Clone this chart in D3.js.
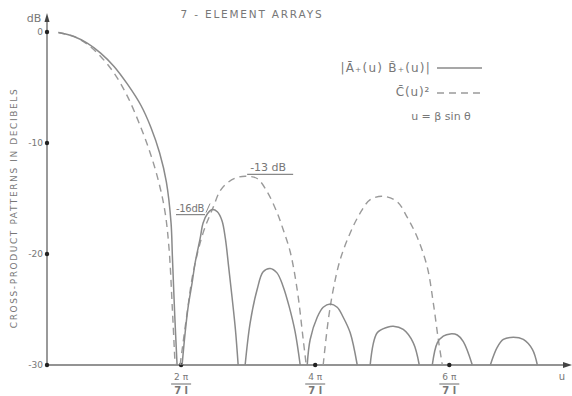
<!DOCTYPE html>
<html>
<head>
<meta charset="utf-8">
<script src="https://cdn.jsdelivr.net/npm/d3@7/dist/d3.min.js"></script>
<style>
  html, body { margin: 0; padding: 0; background: #fff; }
  svg { display: block; }
  text { font-family: "DejaVu Sans", "Liberation Sans", sans-serif; fill: #777; }
</style>
</head>
<body>
<svg id="chart" width="572" height="396"></svg>
<script>
// u is measured in units of pi/(7l); patterns in dB, clipped at -30 dB.
const xTicks = [2, 4, 6];
const yTicks = [0, -10, -20, -30];
const yTickLabels = ["0", "-10", "-20", "-30"];

// |A+(u) B+(u)|  (solid) — main lobe and sidelobes
const productMain = [[0.17,-0.05],[0.4,-0.4],[0.6,-1.0],[0.8,-1.9],[1.0,-3.1],[1.2,-4.7],[1.4,-6.6],[1.55,-8.6],[1.68,-10.9],[1.78,-13.5],[1.85,-17.2],[1.87,-20.2],[1.905,-25.5],[1.94,-30]];
const productSide1 = [[2.015,-30],[2.06,-27.1],[2.104,-24.8],[2.164,-22.6],[2.209,-20.8],[2.284,-18.6],[2.328,-17.2],[2.39,-16.4],[2.463,-16.0],[2.54,-16.2],[2.61,-17.0],[2.66,-18.6],[2.71,-21.2],[2.76,-23.9],[2.81,-26.8],[2.851,-30]];
const productSide2 = [[2.955,-30],[3.03,-26.2],[3.134,-23.2],[3.224,-21.6],[3.328,-21.3],[3.43,-21.7],[3.52,-22.9],[3.61,-24.7],[3.70,-27.0],[3.776,-30]];
const productSide3 = [[3.881,-30],[3.925,-27.7],[4.03,-25.7],[4.119,-24.8],[4.224,-24.5],[4.328,-24.8],[4.418,-25.7],[4.522,-27.1],[4.627,-30]];
const productSide4 = [[4.82,-30],[4.925,-27.1],[5.075,-26.6],[5.164,-26.5],[5.313,-26.8],[5.463,-28.0],[5.552,-30]];
const productSide5 = [[5.746,-30],[5.821,-28.0],[5.91,-27.4],[6.015,-27.2],[6.119,-27.3],[6.209,-27.9],[6.343,-30]];
const productSide6 = [[6.612,-30],[6.716,-28.4],[6.806,-27.7],[6.955,-27.5],[7.104,-27.7],[7.239,-28.6],[7.313,-30]];

// C(u)^2  (dashed)
const squareMain = [[0.17,-0.05],[0.4,-0.4],[0.6,-1.1],[0.8,-2.2],[1.0,-3.7],[1.2,-5.8],[1.4,-8.6],[1.55,-11.1],[1.67,-13.6],[1.76,-16.2],[1.82,-19.5],[1.87,-25.0],[1.91,-30]];
const squareSide1 = [[1.985,-30],[2.09,-25.3],[2.179,-21.7],[2.328,-18.1],[2.478,-15.8],[2.582,-14.3],[2.687,-13.6],[2.836,-13.1],[2.985,-13.0],[3.134,-13.2],[3.284,-14.4],[3.433,-16.3],[3.522,-17.8],[3.627,-19.8],[3.731,-23.2],[3.821,-27.7],[3.866,-30]];
const squareSide2 = [[4.119,-30],[4.194,-26.0],[4.269,-23.2],[4.373,-20.5],[4.522,-18.1],[4.672,-16.3],[4.821,-15.1],[5.015,-14.8],[5.224,-15.3],[5.373,-16.7],[5.522,-18.5],[5.672,-21.2],[5.761,-24.4],[5.836,-27.7],[5.896,-30]];

const productLobes = [productMain, productSide1, productSide2, productSide3, productSide4, productSide5, productSide6];
const squareLobes = [squareMain, squareSide1, squareSide2];

const svg = d3.select("#chart");
const x = d3.scaleLinear().domain([0, 7.8]).range([47, 570]);
const y = d3.scaleLinear().domain([-30, 0]).range([365, 32]);

const line = d3.line().x(d => x(d[0])).y(d => y(d[1])).curve(d3.curveCatmullRom.alpha(0.5));

// axes
const axisColor = "#6f6f6f";
svg.append("line").attr("x1", x(0)).attr("x2", 566).attr("y1", y(-30)).attr("y2", y(-30))
  .attr("stroke", axisColor).attr("stroke-width", 1.6);
svg.append("path").attr("d", `M${572},${y(-30)} L${563},${y(-30) - 3} L${563},${y(-30) + 3} Z`).attr("fill", "#444");
svg.append("line").attr("x1", x(0)).attr("x2", x(0)).attr("y1", y(-30)).attr("y2", 20)
  .attr("stroke", axisColor).attr("stroke-width", 1.4);
svg.append("path").attr("d", `M${x(0)},13 L${x(0) - 2.5},22 L${x(0) + 2.5},22 Z`).attr("fill", "#444");

// y ticks with the axis generator, then dots on the axis
const yAxis = svg.append("g").attr("transform", `translate(${x(0) - 3},0)`)
  .call(d3.axisLeft(y).tickValues(yTicks).tickSize(0).tickPadding(1).tickFormat((d, i) => yTickLabels[i]));
yAxis.select(".domain").remove();
yAxis.selectAll("text").style("font-size", "9px").attr("fill", "#888");
svg.selectAll(".ydot").data(yTicks).join("circle").attr("class", "ydot")
  .attr("cx", x(0)).attr("cy", d => y(d)).attr("r", 2.2).attr("fill", "#222");

// x ticks: dots and fraction labels
svg.selectAll(".xdot").data(xTicks).join("circle").attr("class", "xdot")
  .attr("cx", d => x(d)).attr("cy", y(-30)).attr("r", 2.2).attr("fill", "#222");
const xLab = svg.selectAll(".xlab").data(xTicks).join("g").attr("class", "xlab")
  .attr("transform", d => `translate(${x(d)},0)`);
xLab.append("text").attr("y", 380).attr("text-anchor", "middle").style("font-size", "9px")
  .text(d => d + " π");
xLab.append("line").attr("x1", -10).attr("x2", 10).attr("y1", 384).attr("y2", 384)
  .attr("stroke", "#777").attr("stroke-width", 1.1);
xLab.append("text").attr("y", 394).attr("text-anchor", "middle").style("font-size", "10px")
  .style("font-weight", "bold").text("7 l");

// axis names
svg.append("text").attr("x", 34).attr("y", 22).attr("text-anchor", "middle")
  .style("font-size", "11px").attr("fill", "#777").text("dB");
svg.append("text").attr("x", 562).attr("y", 380).attr("text-anchor", "middle")
  .style("font-size", "10px").text("u");
svg.append("text").attr("transform", "translate(17,208) rotate(-90)").attr("text-anchor", "middle")
  .style("font-size", "9px").style("letter-spacing", "1.6px").attr("fill", "#888")
  .text("CROSS-PRODUCT PATTERNS IN DECIBELS");

// title
svg.append("text").attr("x", 252).attr("y", 18).attr("text-anchor", "middle")
  .style("font-size", "10.5px").style("letter-spacing", "1.8px").text("7 - ELEMENT ARRAYS");

// pattern curves
svg.selectAll(".square").data(squareLobes).join("path").attr("class", "square")
  .attr("d", line).attr("fill", "none").attr("stroke", "#9a9a9a").attr("stroke-width", 1.4)
  .attr("stroke-dasharray", "7,5");
svg.selectAll(".product").data(productLobes).join("path").attr("class", "product")
  .attr("d", line).attr("fill", "none").attr("stroke", "#8a8a8a").attr("stroke-width", 1.5);

// sidelobe level annotations
const peak13 = squareSide1[8];
svg.append("text").attr("x", x(peak13[0]) + 3).attr("y", y(peak13[1]) - 5)
  .style("font-size", "11px").text("-13 dB");
svg.append("line").attr("x1", x(peak13[0])).attr("x2", x(peak13[0]) + 46)
  .attr("y1", y(peak13[1]) - 2).attr("y2", y(peak13[1]) - 2).attr("stroke", "#888").attr("stroke-width", 1.2);
const peak16 = productSide1[8];
svg.append("text").attr("x", 176).attr("y", y(peak16[1]) + 2)
  .style("font-size", "10px").style("letter-spacing", "-0.3px").text("-16dB");
svg.append("line").attr("x1", 176).attr("x2", 205).attr("y1", y(peak16[1]) + 5).attr("y2", y(peak16[1]) + 5)
  .attr("stroke", "#888").attr("stroke-width", 1.2);
svg.append("line").attr("x1", 206).attr("x2", 210).attr("y1", y(peak16[1]) + 3).attr("y2", y(peak16[1]) - 6)
  .attr("stroke", "#888").attr("stroke-width", 1);

// legend
const leg = svg.append("g").style("font-size", "12px");
leg.append("text").attr("x", 431).attr("y", 72).attr("text-anchor", "end")
  .style("letter-spacing", "1.2px").text("|Ā₊(u) B̃₊(u)|");
leg.append("line").attr("x1", 437).attr("x2", 482).attr("y1", 68).attr("y2", 68)
  .attr("stroke", "#8a8a8a").attr("stroke-width", 1.4);
leg.append("text").attr("x", 430).attr("y", 96).attr("text-anchor", "end")
  .style("letter-spacing", "0.8px").text("C̄(u)²");
leg.append("line").attr("x1", 437).attr("x2", 482).attr("y1", 93).attr("y2", 93)
  .attr("stroke", "#9a9a9a").attr("stroke-width", 1.4).attr("stroke-dasharray", "7,5");
leg.append("text").attr("x", 441).attr("y", 120).attr("text-anchor", "middle")
  .style("font-size", "11px").text("u = β sin θ");
</script>
</body>
</html>
